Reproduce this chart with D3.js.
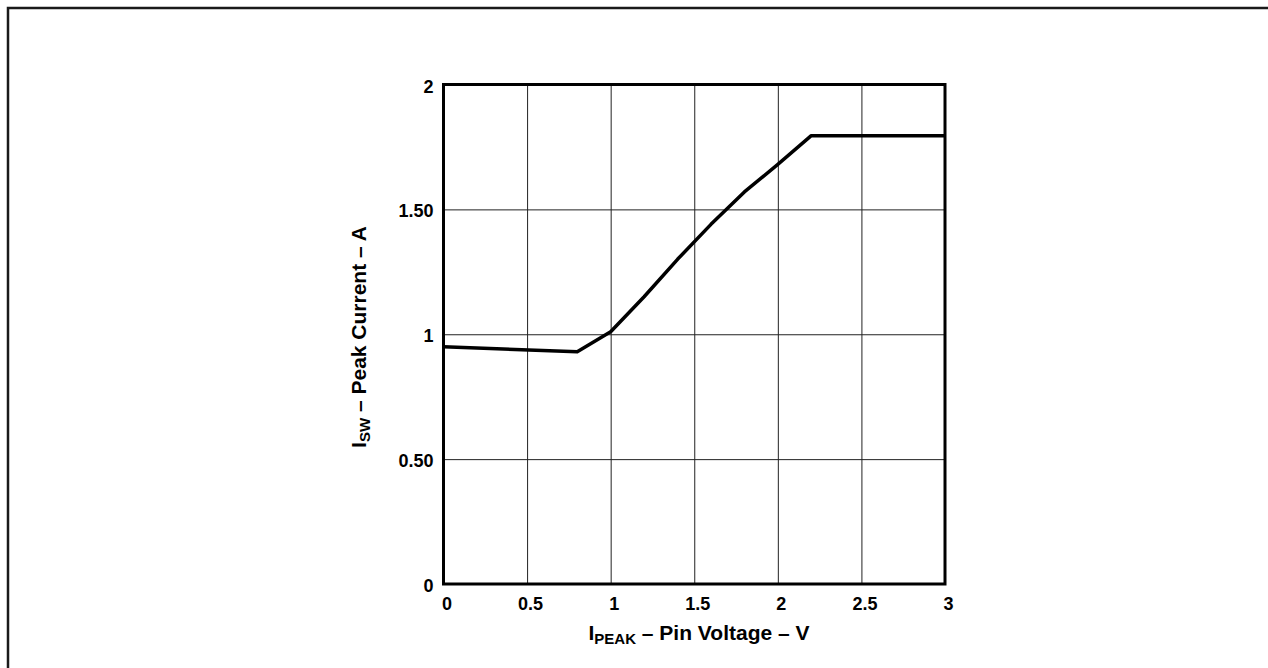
<!DOCTYPE html>
<html>
<head>
<meta charset="utf-8">
<script src="https://cdn.jsdelivr.net/npm/d3@7"></script>
<style>
  html, body { margin: 0; padding: 0; background: #fff; }
  svg { display: block; }
  text { font-family: "Liberation Sans", Arial, Helvetica, sans-serif; font-weight: bold; fill: #000; }
</style>
</head>
<body>
<svg id="chart" width="1268" height="668"></svg>
<script>
// Peak switch current vs IPEAK pin voltage
const pinVoltage = [0, 0.8, 1.0, 1.2, 1.4, 1.6, 1.8, 2.0, 2.2, 3.0];
const peakCurrent = [0.95, 0.93, 1.01, 1.15, 1.30, 1.44, 1.57, 1.68, 1.795, 1.795];

const xTicks = [0, 0.5, 1, 1.5, 2, 2.5, 3];
const xTickLabels = ["0", "0.5", "1", "1.5", "2", "2.5", "3"];
const yTicks = [0, 0.5, 1, 1.5, 2];
const yTickLabels = ["0", "0.50", "1", "1.50", "2"];

const svg = d3.select("#chart");

// outer frame (open on the right and bottom)
svg.append("rect")
  .attr("x", 8).attr("y", 8)
  .attr("width", 1300).attr("height", 700)
  .attr("fill", "none")
  .attr("stroke", "#1a1a1a")
  .attr("stroke-width", 2.5);

const plotLeft = 443.5, plotRight = 945, plotTop = 84.5, plotBottom = 584;
const x = d3.scaleLinear().domain([0, 3]).range([plotLeft, plotRight]);
const y = d3.scaleLinear().domain([0, 2]).range([plotBottom, plotTop]);

// grid lines
svg.append("g")
  .attr("transform", `translate(0,${plotBottom})`)
  .call(d3.axisBottom(x).tickValues(xTicks).tickSize(-(plotBottom - plotTop)).tickFormat(""))
  .call(g => g.select(".domain").remove())
  .call(g => g.selectAll(".tick line").attr("stroke", "#222").attr("stroke-width", 1));

svg.append("g")
  .attr("transform", `translate(${plotLeft},0)`)
  .call(d3.axisLeft(y).tickValues(yTicks).tickSize(-(plotRight - plotLeft)).tickFormat(""))
  .call(g => g.select(".domain").remove())
  .call(g => g.selectAll(".tick line").attr("stroke", "#222").attr("stroke-width", 1));

// tick labels
svg.append("g")
  .attr("transform", `translate(0,${plotBottom})`)
  .call(d3.axisBottom(x).tickValues(xTicks).tickSize(0).tickPadding(13)
    .tickFormat((d, i) => xTickLabels[i]))
  .call(g => g.select(".domain").remove())
  .call(g => g.selectAll(".tick text")
    .attr("font-size", 18).attr("dx", 3)
    .style("font-family", "'Liberation Sans', Arial, sans-serif").style("font-weight", "bold"));

svg.append("g")
  .attr("transform", `translate(${plotLeft},0)`)
  .call(d3.axisLeft(y).tickValues(yTicks).tickSize(0).tickPadding(10)
    .tickFormat((d, i) => yTickLabels[i]))
  .call(g => g.select(".domain").remove())
  .call(g => g.selectAll(".tick text")
    .attr("font-size", 18).attr("dy", "0.42em")
    .style("font-family", "'Liberation Sans', Arial, sans-serif").style("font-weight", "bold"));

// plot border
svg.append("rect")
  .attr("x", plotLeft).attr("y", plotTop)
  .attr("width", plotRight - plotLeft).attr("height", plotBottom - plotTop)
  .attr("fill", "none")
  .attr("stroke", "#000")
  .attr("stroke-width", 3);

// curve
const line = d3.line()
  .x((d, i) => x(pinVoltage[i]))
  .y(d => y(d));

svg.append("path")
  .datum(peakCurrent)
  .attr("d", line)
  .attr("fill", "none")
  .attr("stroke", "#000")
  .attr("stroke-width", 3.5)
  .attr("stroke-linejoin", "round");

// x axis title
const xt = svg.append("text")
  .attr("x", 699)
  .attr("y", 640)
  .attr("text-anchor", "middle")
  .attr("font-size", 21);
xt.append("tspan").text("I");
xt.append("tspan").attr("font-size", 15).attr("dy", 4).text("PEAK");
xt.append("tspan").attr("dy", -4).text(" – Pin Voltage – V");

// y axis title
const yt = svg.append("text")
  .attr("transform", `translate(366,337) rotate(-90)`)
  .attr("text-anchor", "middle")
  .attr("font-size", 21);
yt.append("tspan").text("I");
yt.append("tspan").attr("font-size", 15).attr("dy", 4).text("SW");
yt.append("tspan").attr("dy", -4).text(" – Peak Current – A");
</script>
</body>
</html>
